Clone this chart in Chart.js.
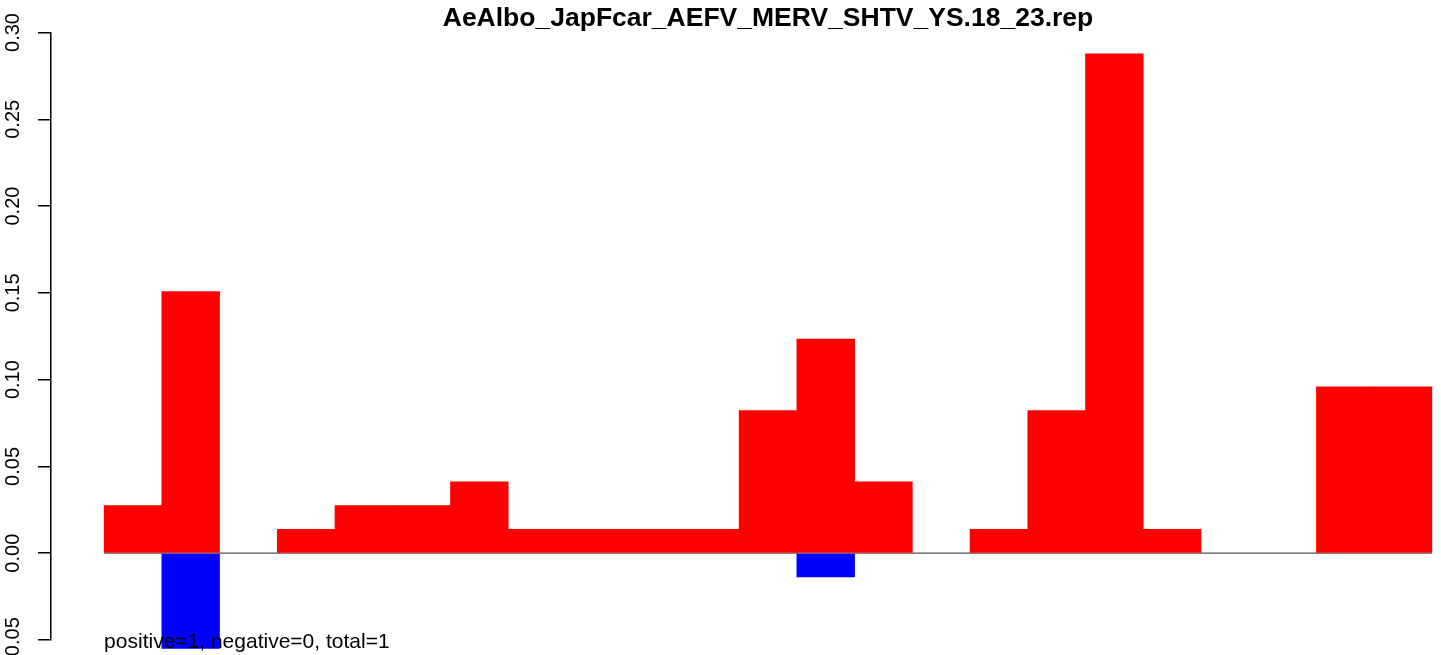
<!DOCTYPE html>
<html>
<head>
<meta charset="utf-8">
<script src="https://cdn.jsdelivr.net/npm/chart.js@4/dist/chart.umd.min.js"></script>
<style>
  html, body { margin: 0; padding: 0; background: #ffffff; }
  #clip { width: 1441px; height: 655px; overflow: hidden; position: relative; }
  #wrap { width: 1536px; height: 655px; }
  canvas { display: block; }
</style>
</head>
<body>
<div id="clip"><div id="wrap"><canvas id="c" width="1536" height="655"></canvas></div></div>
<script>
// ---- data ----
const chartTitle = "AeAlbo_JapFcar_AEFV_MERV_SHTV_YS.18_23.rep";
const footnote = "positive=1, negative=0, total=1";
const barPositions = [0.5, 1.5, 2.5, 3.5, 4.5, 5.5, 6.5, 7.5, 8.5, 9.5, 10.5, 11.5,
                      12.5, 13.5, 14.5, 15.5, 16.5, 17.5, 18.5, 19.5, 20.5, 21.5, 22.5];
const redValues = [0.0274, 0.1507, 0, 0.0137, 0.0274, 0.0274, 0.0411, 0.0137, 0.0137, 0.0137, 0.0137, 0.0822,
                   0.1233, 0.0411, 0, 0.0137, 0.0822, 0.2877, 0.0137, 0, 0, 0.0959, 0.0959];
const blueValues = [0, -0.0548, 0, 0, 0, 0, 0, 0, 0, 0, 0, 0,
                    -0.0137, 0, 0, 0, 0, 0, 0, 0, 0, 0, 0];
const zeroLineX = [0, 23];
const zeroLineY = [0, 0];
const tickValues = [-0.05, 0.00, 0.05, 0.10, 0.15, 0.20, 0.25, 0.30];
const tickLabels = ["-0.05", "0.00", "0.05", "0.10", "0.15", "0.20", "0.25", "0.30"];
const xRange = [-0.92, 23.92];
const footnoteAt = [0, -0.05];

const FONT = "'Liberation Sans', Arial, Helvetica, sans-serif";
Chart.defaults.font.family = FONT;
Chart.defaults.color = '#000';

// zero-height bars are not drawn (as in the reference)
const toPoints = (vals) => barPositions.map((x, i) => ({x: x, y: vals[i] === 0 ? null : vals[i]}));

const footnotePlugin = {
  id: 'footnote',
  afterDatasetsDraw(chart) {
    const ctx = chart.ctx;
    const xs = chart.scales.x, ys = chart.scales.y;
    ctx.save();
    ctx.font = '21px ' + FONT;
    ctx.fillStyle = '#000';
    ctx.textAlign = 'left';
    ctx.textBaseline = 'middle';
    ctx.fillText(footnote, xs.getPixelForValue(footnoteAt[0]), ys.getPixelForValue(footnoteAt[1]) + 2);
    ctx.restore();
  }
};

new Chart(document.getElementById('c'), {
  type: 'bar',
  data: {
    datasets: [
      {
        type: 'line',
        data: zeroLineX.map((x, i) => ({x: x, y: zeroLineY[i]})),
        borderColor: '#555555',
        borderWidth: 1.2,
        pointRadius: 0,
        order: 10
      },
      {
        data: toPoints(redValues),
        backgroundColor: '#ff0000',
        borderWidth: 0,
        grouped: false,
        barPercentage: 1,
        categoryPercentage: 1,
        order: 1
      },
      {
        data: toPoints(blueValues),
        backgroundColor: '#0000ff',
        borderWidth: 0,
        grouped: false,
        barPercentage: 1,
        categoryPercentage: 1,
        clip: false,
        order: 0
      }
    ]
  },
  options: {
    responsive: false,
    animation: false,
    layout: { padding: { left: 0, right: 51, top: 0, bottom: 15 } },
    plugins: {
      legend: { display: false },
      tooltip: { enabled: false },
      title: {
        display: true,
        fullSize: false,
        text: chartTitle,
        color: '#000',
        font: { family: FONT, size: 26.5, weight: 'bold', lineHeight: 1 },
        padding: { top: 5, bottom: 1 }
      }
    },
    scales: {
      x: {
        type: 'linear',
        display: false,
        min: xRange[0],
        max: xRange[1],
        offset: false
      },
      y: {
        type: 'linear',
        position: 'left',
        min: tickValues[0],
        max: tickValues[tickValues.length - 1],
        afterBuildTicks(scale) {
          scale.ticks = tickValues.map(v => ({value: v}));
        },
        afterFit(scale) {
          scale.width = 51;
          scale.paddingTop = 0;
          scale.paddingBottom = 0;
        },
        grid: {
          display: true,
          drawOnChartArea: false,
          drawTicks: true,
          tickLength: 13,
          color: '#000',
          lineWidth: 1.5
        },
        border: { display: true, color: '#000', width: 1.5 },
        ticks: {
          minRotation: 90,
          maxRotation: 90,
          crossAlign: 'center',
          padding: 2,
          color: '#000',
          font: { family: FONT, size: 20 },
          callback: (v) => {
            const i = tickValues.findIndex(t => Math.abs(t - v) < 1e-9);
            return i >= 0 ? tickLabels[i] : '';
          }
        }
      }
    }
  },
  plugins: [footnotePlugin]
});
</script>
</body>
</html>
